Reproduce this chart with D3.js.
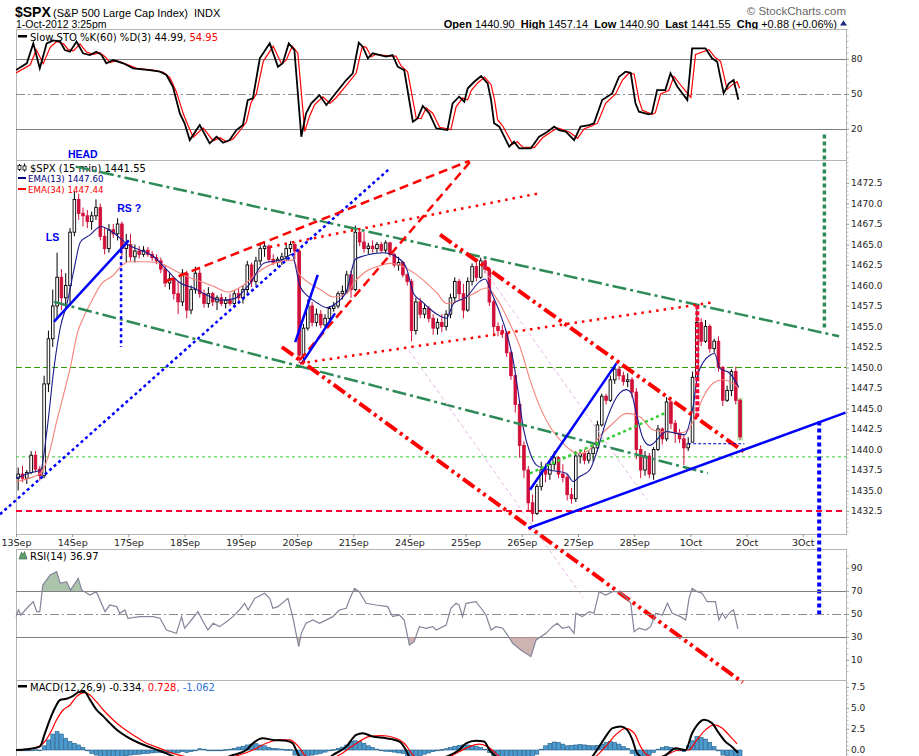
<!DOCTYPE html>
<html>
<head>
<meta charset="utf-8">
<script src="https://cdn.jsdelivr.net/npm/d3@7"></script>
<style>
  body { margin: 0; background: #fff; }
  svg { display: block; }
</style>
</head>
<body>
<div id="chart"></div>
<script>
// ---- data: 30-minute candles, 13 per session (last session 12) ----
const dayLabels = ["13Sep", "14Sep", "17Sep", "18Sep", "19Sep", "20Sep", "21Sep", "24Sep",
                   "25Sep", "26Sep", "27Sep", "28Sep", "1Oct", "2Oct", "3Oct"];
const barsPerDay = 13;

const barOpen = [
  1436.5, 1437, 1436.5, 1437.2, 1439.3, 1437.6, 1436.8, 1448, 1453.5, 1457.5, 1461, 1458.5, 1460,
  1466.5, 1470.5, 1468.8, 1468.5, 1467.8, 1468.5, 1469.5, 1466, 1464.5, 1466.8, 1466.3, 1467.5, 1464.5,
  1465, 1463.5, 1464.2, 1463.8, 1464.3, 1463.8, 1463.4, 1463, 1462, 1460.3, 1460.8, 1459, 1458,
  1461.5, 1457, 1459.5, 1461.5, 1459, 1457.8, 1459, 1458, 1458.5, 1457.8, 1458.2, 1457.8, 1459,
  1458.5, 1459.5, 1462.5, 1460.5, 1463, 1464.5, 1464.8, 1463.2, 1462.8, 1463.2, 1463.5, 1464.5, 1465,
  1464.2, 1451.5, 1454.8, 1457.5, 1455.5, 1456.5, 1455.2, 1456, 1457.2, 1457.5, 1459, 1459.3, 1461.3,
  1459.5, 1466.5, 1465.3, 1464.5, 1464.8, 1464.5, 1465, 1464.3, 1465.2, 1463.8, 1462.5, 1462.8, 1461.3,
  1460.5, 1454.5, 1458, 1456.5, 1457.2, 1456, 1454.8, 1455.5, 1455, 1456.5, 1458.5, 1460.5, 1459,
  1457, 1460.5, 1462.3, 1461, 1463, 1462, 1458, 1455, 1454.5, 1454.2, 1451.8, 1449, 1445.5,
  1440.5, 1437.5, 1433.5, 1432.2, 1435.5, 1437.5, 1437, 1438.2, 1439, 1437, 1436.6, 1434.5, 1434,
  1439.2, 1439.5, 1438.7, 1439.5, 1440.2, 1443, 1446.5, 1446, 1448.5, 1449.8, 1449, 1448.3, 1448.5,
  1447, 1440, 1437.5, 1439.2, 1437, 1440, 1442.5, 1441.3, 1445.8, 1443.2, 1442, 1441.3, 1440.2,
  1440.9, 1448.8, 1455.5, 1453.2, 1455, 1452.3, 1453.2, 1450, 1446, 1447.2, 1449.5, 1446
];
const barHigh = [
  1437.8, 1438, 1437.5, 1439.8, 1439.8, 1438, 1449, 1454.5, 1459.5, 1464, 1462, 1461.5, 1467,
  1471.5, 1471.2, 1469.5, 1469.2, 1469, 1470.5, 1470, 1467, 1467.5, 1467.5, 1468.2, 1467.8, 1466.3,
  1466.3, 1465, 1464.8, 1464.8, 1464.7, 1464.2, 1463.8, 1463.4, 1462.5, 1461.5, 1461, 1460.5, 1462,
  1461.8, 1460, 1462.3, 1462, 1459.5, 1459.8, 1459.2, 1458.8, 1459, 1458.6, 1459, 1459.4, 1459.6,
  1460, 1463, 1462.8, 1463.5, 1465, 1465.3, 1465, 1463.8, 1463.5, 1464, 1465.2, 1465.4, 1465.3,
  1464.5, 1455.3, 1458.3, 1458, 1457.2, 1457, 1456.5, 1457.5, 1458, 1459.3, 1460, 1461.8, 1461.8,
  1467.3, 1467, 1466.5, 1465.2, 1465.5, 1465.3, 1465.3, 1465.5, 1465.3, 1464, 1463.5, 1463, 1461.5,
  1460.8, 1458.5, 1458.5, 1457.8, 1457.5, 1456.5, 1456, 1456.5, 1457, 1459, 1461, 1460.8, 1460.2,
  1461, 1462.7, 1462.8, 1463.4, 1463.2, 1462.2, 1458.3, 1455.5, 1455.2, 1454.5, 1452, 1449.3, 1446,
  1441, 1438, 1434.5, 1435.8, 1438.5, 1438.3, 1438.5, 1439.8, 1439.2, 1438.2, 1437, 1435.3, 1439.8,
  1440, 1440, 1439.8, 1440.5, 1443.5, 1446.8, 1446.8, 1449, 1450.2, 1450.2, 1449.5, 1449.3, 1448.8,
  1447.5, 1440.5, 1439.8, 1439.6, 1440.3, 1443, 1442.7, 1446.4, 1446, 1443.6, 1442.5, 1441.8, 1441.5,
  1449.5, 1457.1, 1456, 1455.8, 1455.3, 1453.5, 1453.8, 1450.2, 1447.8, 1449.8, 1450.1, 1446.2
];
const barLow = [
  1435, 1436, 1435.8, 1437, 1437.2, 1436.2, 1436.5, 1447, 1452.5, 1456, 1457, 1457, 1457.5,
  1466, 1468, 1467.2, 1467, 1466.8, 1468, 1465.5, 1463.8, 1464, 1465.8, 1465.5, 1463.5, 1462.8,
  1463, 1462.8, 1463.3, 1463.5, 1463.5, 1463, 1462.6, 1461.5, 1459.8, 1459.5, 1458.3, 1456.5, 1457.5,
  1456, 1456.5, 1459, 1458.5, 1457.3, 1457.3, 1457.5, 1457, 1457.5, 1457.2, 1457.5, 1457.4, 1457.8,
  1457.8, 1459, 1459.8, 1460, 1462.5, 1463.5, 1462.8, 1462.5, 1462.3, 1462.5, 1463, 1464, 1463.2,
  1450.5, 1450.8, 1454.5, 1455, 1455, 1454.8, 1454.8, 1455.5, 1456.8, 1457.2, 1458.3, 1459, 1458.5,
  1459.3, 1464.8, 1464, 1463.8, 1464, 1464, 1464, 1464, 1463.5, 1462.2, 1461.8, 1461, 1460,
  1453.2, 1454, 1456, 1456, 1455.5, 1454, 1454, 1454.3, 1454.5, 1456, 1458, 1458.3, 1456,
  1456.8, 1460, 1460.5, 1460.8, 1461.5, 1457.5, 1453.8, 1453.8, 1453.6, 1451.3, 1448.5, 1444.5, 1439,
  1436.5, 1432.5, 1431.2, 1432, 1435, 1436, 1436.3, 1437.5, 1436.5, 1436, 1433.8, 1433.4, 1433.6,
  1438.3, 1438.2, 1438.3, 1438.5, 1439.8, 1442.8, 1445.5, 1445.8, 1448, 1448.5, 1447.8, 1447.6, 1446.3,
  1438.8, 1436.5, 1436.8, 1436.5, 1436.3, 1439.8, 1440.6, 1441, 1442.5, 1440.8, 1440.8, 1438.1, 1439.8,
  1440.9, 1448.5, 1452.6, 1453, 1451.8, 1451.8, 1449.5, 1445.3, 1445.8, 1446.5, 1445.5, 1441.2
];
const barClose = [
  1437, 1436.5, 1437.2, 1439.3, 1437.6, 1436.8, 1448, 1453.5, 1457.5, 1461, 1458.5, 1460, 1466.5,
  1470.5, 1468.8, 1468.5, 1467.8, 1468.5, 1469.5, 1466, 1464.5, 1466.8, 1466.3, 1467.5, 1464.5, 1465,
  1463.5, 1464.2, 1463.8, 1464.3, 1463.8, 1463.4, 1463, 1462, 1460.3, 1460.8, 1459, 1458, 1461.5,
  1457, 1459.5, 1461.5, 1459, 1457.8, 1459, 1458, 1458.5, 1457.8, 1458.2, 1457.8, 1459, 1458.5,
  1459.5, 1462.5, 1460.5, 1463, 1464.5, 1464.8, 1463.2, 1462.8, 1463.2, 1463.5, 1464.5, 1465, 1464.2,
  1451.5, 1454.8, 1457.5, 1455.5, 1456.5, 1455.2, 1456, 1457.2, 1457.5, 1459, 1459.3, 1461.3, 1459.5,
  1466.5, 1465.3, 1464.5, 1464.8, 1464.5, 1465, 1464.3, 1465.2, 1463.8, 1462.5, 1462.8, 1461.3, 1460.5,
  1454.5, 1458, 1456.5, 1457.2, 1456, 1454.8, 1455.5, 1455, 1456.5, 1458.5, 1460.5, 1459, 1457,
  1460.5, 1462.3, 1461, 1463, 1462, 1458, 1455, 1454.5, 1454.2, 1451.8, 1449, 1445.5, 1440.5,
  1437.5, 1433.5, 1432.2, 1435.5, 1437.5, 1437, 1438.2, 1439, 1437, 1436.6, 1434.5, 1434, 1439.2,
  1439.5, 1438.7, 1439.5, 1440.2, 1443, 1446.5, 1446, 1448.5, 1449.8, 1449, 1448.3, 1448.5, 1447,
  1440, 1437.5, 1439.2, 1437, 1440, 1442.5, 1441.3, 1445.8, 1443.2, 1442, 1441.3, 1440.2, 1440.7,
  1448.8, 1455.5, 1453.2, 1455, 1452.3, 1453.2, 1450, 1446, 1447.2, 1449.5, 1446, 1441.55
];

// moving averages: [bar, value]
const ema13 = [[-0.5,1436.5],[3,1437.2],[5.2,1437.5],[6.7,1442.5],[8.3,1450],[9.8,1455],[11.3,1457.8],
  [12.9,1461.9],[14.4,1465.3],[16.7,1466.2],[19.1,1467.2],[22.1,1466.4],[25.6,1464.9],[28.3,1464.3],
  [31.4,1463.5],[34.4,1461.9],[37.5,1460.3],[40.6,1459.7],[43.7,1458.8],[46.8,1458.2],[50,1458.4],
  [53.7,1460.3],[56.8,1462.7],[61.4,1463.2],[63.3,1463.8],[65.2,1459.9],[66.8,1458.8],[69.1,1457.9],
  [71.4,1457.3],[73.7,1457.9],[76,1459.4],[78,1463.2],[79.9,1463.6],[84.5,1464],[88.3,1463.2],
  [89.9,1462],[91.4,1459.1],[93.5,1458],[95.3,1457.1],[97.5,1456.3],[99.1,1456],[100.7,1457.8],
  [103.7,1458.6],[106.8,1460.5],[108,1460.8],[109.5,1459.1],[111.4,1456.7],[113,1454.2],[114.5,1450.9],
  [115.7,1446.9],[116.8,1442.8],[118.4,1439.6],[119.9,1438.1],[123,1437.5],[126.8,1437.1],[128.4,1436.1],
  [129.9,1436.7],[132.2,1437.5],[133.8,1439.6],[136.1,1443.6],[139.2,1446.9],[140.7,1447.3],[141.8,1446.9],
  [143,1444.4],[144.5,1441.4],[146.1,1440.5],[150,1442.2],[154.2,1441.8],[156.1,1445.2],[157.3,1449.3],
  [160,1451.5],[161.1,1451.7],[162.3,1449.9],[164.6,1449.3],[166.7,1447.6]];
const ema34 = [[-0.5,1436.1],[5.2,1437.1],[6.7,1438.7],[9,1443.6],[10.6,1446.9],[12.1,1450.1],[13.7,1454.2],
  [15.2,1456.2],[17.5,1458.6],[19.1,1460.1],[22.1,1461.3],[23.7,1462.3],[25.6,1462.9],[29.8,1462.9],
  [32.9,1462.7],[36,1461.9],[39.1,1461.1],[42.2,1460.5],[45.2,1459.9],[48.7,1459.2],[52,1460],
  [55.2,1461.5],[59.1,1462.7],[63.7,1463.1],[64.9,1461.5],[66.8,1460.5],[69.9,1459.5],[73,1458.6],
  [76,1459],[77.6,1460.3],[79.9,1461.5],[83,1462.3],[86,1462.7],[89.1,1462.3],[92.2,1461.3],
  [95.3,1459.9],[97,1459],[99.1,1457.8],[102.2,1458.2],[105.3,1459],[108.3,1459.7],[111.4,1457.8],
  [113.7,1455.4],[116.1,1452.5],[118.4,1448.5],[120.7,1445.2],[123,1442.8],[125.3,1441.2],[127.6,1440],
  [129.9,1439.5],[132.2,1440],[134.5,1441.6],[137.6,1443.2],[140.7,1444.4],[143.8,1444],[146.8,1442.4],
  [150,1442.1],[153,1442],[155,1442.4],[156.9,1444.4],[158.5,1446.4],[160.8,1448.1],[163.1,1448.5],
  [166.7,1447.5]];

// slow stochastic
const stoK = [[-0.5,70.5],[2,76.3],[3.5,93.4],[5,72],[6.6,93.4],[8.1,96],[9.7,95],[10.8,87.7],[12,86.2],
  [13.5,95],[15,84.9],[16.6,83.4],[18.1,86.2],[19.3,83.4],[20.4,76.3],[22,79.1],[24.3,76.3],[26.6,72],
  [30.4,70.5],[32.8,69.1],[34.3,66.3],[35.8,56.2],[37.4,33.4],[38.5,24.9],[39.7,10.5],[42,23.4],
  [44.3,7.7],[45.9,13.4],[47.4,8.2],[48.9,10.5],[50.5,19.1],[52,23.4],[53.1,44.8],[54.3,46.3],
  [55.9,80.6],[58.2,93.4],[60.1,73.4],[61.2,76.3],[62.6,93.4],[63.9,87.7],[65.5,13.4],[66.6,33.4],
  [67.8,42],[69.7,49.1],[71.3,40.5],[72.8,47.7],[75.9,62],[77.4,67.7],[78.8,94],[79.7,90.5],
  [80.9,80.6],[82,84.9],[85.1,82],[86.6,83.4],[87.8,73.4],[89.3,70.5],[91.3,26.2],[92.4,29.1],
  [93.6,39.7],[95.1,33.4],[96.7,20.6],[99.3,19.1],[100.5,42],[102,47.7],[103.2,43.4],[104,54.9],
  [105.5,60.5],[107.1,65.4],[108.6,59.1],[109.4,44.8],[110.1,24.9],[111.3,22],[113.6,4.8],[114.7,9.1],
  [115.9,3.4],[118.6,3.4],[120.5,13.4],[122.1,16.8],[124,22],[125.1,19.1],[126.7,17.7],[128.6,10.5],
  [130.1,22],[132.1,23.4],[133.2,24.9],[135.1,44.8],[137.4,50.5],[139,64.8],[140.5,69.1],[141.7,68.2],
  [142.8,42],[143.6,34.8],[145.9,32.6],[146.6,33.4],[147.8,53.4],[149.7,53.4],[150.9,67.7],[152.5,56.2],
  [154.8,44.8],[155.9,89.1],[159,89.1],[160.5,80.6],[161.7,77.7],[163.2,50.5],[164.4,59.1],[165.5,62],
  [166.6,45]];
const stoD = [[-0.5,68],[2.8,75],[4.2,88],[5.8,76],[7.4,90],[8.9,95],[10.5,93],[11.6,88],[12.8,87],
  [14.3,93],[15.8,86],[17.4,84],[18.9,85.5],[20.1,82],[21.2,77],[22.8,78.5],[25.1,75.5],[27.4,72],
  [31.2,70.5],[33.6,68.5],[35.1,64],[36.6,52],[38.2,33],[39.3,23],[40.5,13],[42.8,21],[45.1,10],
  [46.7,12.5],[48.2,9],[49.7,11.5],[51.3,18.5],[52.8,26],[53.9,43],[55.1,50],[56.7,78],[59,91],
  [60.9,76],[62,79],[63.4,91],[64.7,85],[66.3,18],[67.4,31],[68.6,41],[70.5,47.5],[72.1,42],[73.6,47],
  [76.7,61],[78.2,68],[79.6,91],[80.5,90],[81.7,82],[82.8,84],[85.9,82.5],[87.4,82.5],[88.6,74],
  [90.1,69],[92.1,29],[93.2,29],[94.4,38],[95.9,33.5],[97.5,21.5],[100.1,19.5],[101.3,39],[102.8,46.5],
  [104,45],[104.8,53],[106.3,59.5],[107.9,64.5],[109.4,58],[110.2,45],[110.9,28],[112.1,22.5],
  [114.4,7],[115.5,9],[116.7,4.5],[119.4,4],[121.3,12.5],[122.9,16.5],[124.8,21],[125.9,19.5],
  [127.5,17.5],[129.4,12],[130.9,20],[132.9,23],[134,25],[135.9,42],[138.2,50],[139.8,62],[141.3,68],
  [142.5,67],[143.6,45],[144.4,36],[146.7,32.5],[147.4,34],[148.6,50],[150.5,53],[151.7,65],
  [153.3,57.5],[155.6,47],[156.7,84],[159.8,88],[161.3,81],[162.5,78],[164,54],[165.2,58],[166.3,60.5],
  [166.9,55]];

// RSI(14)
const rsi = [[-0.5,47.7],[0.1,53.5],[0.6,49],[2,55],[3.5,60.7],[4.3,52],[5,52],[5.7,75.2],[7.4,83.9],
  [8.9,86.8],[9.7,76.7],[11.2,78.1],[12.1,70.9],[13.9,81],[14.7,70.9],[16.6,66.5],[18.1,69.4],[20.1,52],
  [21.2,57.8],[22.8,56.4],[23.5,50.6],[24.7,53.5],[25.4,46.3],[28.1,47.7],[31.2,47.7],[32.8,46.3],
  [34.3,36.1],[36.6,33.2],[37.8,47.7],[38.5,37.6],[40.4,46.3],[41.6,52],[42.8,43.3],[43.9,36.1],
  [45.1,41.9],[46.6,39],[48.2,43.3],[49.7,47.7],[51.2,53.5],[52.4,59.3],[53.2,53.5],[54.7,63.6],
  [57,68],[58.2,63.6],[58.9,55],[60.1,56.4],[62.4,63.6],[63.5,47.7],[64.9,21.6],[65.5,33.2],[66.6,41.9],
  [68.2,44.8],[69.7,41.9],[72.8,47.7],[74.3,53.5],[75.9,55],[76.6,62.2],[77.8,72.3],[78.9,69.4],
  [80.5,59.3],[82.8,57.8],[85.5,56.4],[86.6,47.7],[88.2,49.1],[89.3,44.8],[90.5,23],[91.6,25.9],
  [92.8,39],[94.4,37.6],[95.9,39],[96.7,36.1],[99,40.4],[100.1,55],[101.3,59.3],[102,57.8],[102.8,47.7],
  [103.6,59.3],[105.9,60.7],[107.1,55],[108.2,49.1],[109.4,36.1],[110.5,39],[112.1,37.6],[113.2,31.7],
  [114.4,24.5],[116.3,18.7],[118.6,12.9],[119.8,27.4],[122.1,33.2],[123.6,39],[124.7,41.9],[125.9,37.6],
  [127.4,39],[128.6,33.2],[129,50.6],[130.5,47.7],[132.1,52],[133.2,50.6],[134.4,69.4],[135.9,66.5],
  [137.5,69.4],[139,69.4],[140.5,65.1],[141.7,59.3],[142.5,34.6],[143.6,37.6],[145.2,36.1],[146.3,39],
  [147.5,50.6],[149,49.1],[150.2,59.3],[151.3,50.6],[153.2,47.7],[154.4,44.8],[155.2,63.6],[155.9,72.3],
  [157.1,69.4],[158.2,68],[159.4,60.7],[161.3,60.7],[162.1,44.8],[162.9,50.6],[163.6,46.3],[164.8,52],
  [165.5,53.5],[166.5,37]];

// MACD(12,26,9)
const macdLine = [[-0.5,0],[2,0.1],[5,0.4],[6.2,2],[7.4,3.7],[8.5,5],[9.7,5.95],[11.2,6.1],[12.4,6.35],
  [14.3,6.94],[15.4,6.9],[16.6,6],[18.1,4.8],[19.7,4],[21.2,3.2],[22.8,2.4],[25.1,1.6],[28.1,0.8],
  [31.2,0.2],[34.3,-0.4],[36.6,-0.9],[40,-1.2],[45,-1.3],[49.7,-0.6],[52.8,0],[54.3,0.8],[56.6,1.4],
  [58.9,1.2],[62,1.1],[63.5,0.8],[64.3,0],[65.1,-0.8],[67,-1.5],[70,-1.6],[72.8,-0.6],[75.9,0.4],
  [78.2,1.8],[79.7,2],[82,1.6],[85.1,1.4],[88.2,1],[89.7,0],[90.5,-0.8],[93,-1.5],[96,-1.3],[99,-0.8],
  [102,0],[103.6,0.8],[105.9,1.1],[107.8,1],[109,0],[110.5,-0.8],[113,-2.5],[116,-5],[119,-6.5],
  [122,-5.5],[126,-3.5],[130,-1.8],[132.8,-0.8],[134.4,0.4],[135.9,1.6],[137.5,2.6],[139.4,2.8],
  [140.9,2.4],[142.1,1.2],[143.2,-0.4],[146,-1.2],[148,-1],[149.8,-0.6],[152.1,0.2],[154.4,0],
  [155.9,2],[157.1,3],[158.7,3.6],[160.5,3.2],[162.1,2],[163.6,1],[165.1,0.4],[166.5,-0.33]];
const macdSignal = [[-0.5,0],[3.5,0.2],[5.8,0.8],[7.4,2],[8.9,3.6],[10.4,4.76],[12,5.36],[13.5,6.35],
  [15.4,6.83],[16.6,6.55],[18.1,5.75],[19.7,4.76],[22,3.57],[24.3,2.58],[26.6,1.8],[29.7,0.8],
  [32.8,0.2],[35.8,-0.4],[40,-0.9],[46,-1.1],[51.2,-0.6],[54.3,0],[57.4,0.8],[60.5,1.2],[62.8,1.2],
  [63.9,0.9],[65.5,0],[66.2,-0.6],[70,-1.2],[74.3,-0.6],[76.6,0.2],[78.9,1],[81.2,1.6],[84.2,1.7],
  [87.4,1.4],[89.3,0.8],[90.5,0],[91.3,-0.6],[95,-1.3],[99,-1],[102,-0.2],[104.4,0.4],[106.7,0.7],
  [108.6,0.4],[110.5,-0.4],[115,-2.5],[120,-4.5],[126,-3.5],[130,-1.8],[133.6,-0.8],[135.9,0.4],
  [138.2,1.8],[140.5,2.58],[142.5,2],[144,0.4],[145.5,-0.6],[148,-0.9],[149.8,-0.6],[153,0],[155.2,0],
  [156.7,1],[159,2.4],[160.9,3],[162.9,2.6],[164.4,1.8],[166.3,0.73]];
const macdHist = [
  0, 0, 0, 0, 0.05, -0.05, 0.5, 1.2, 1.9, 2.2, 1.9, 1.4, 1.0,
  0.8, 0.6, 0.3, -0.1, -0.4, -0.6, -0.8, -0.9, -0.9, -0.8, -0.8, -0.75, -0.7,
  -0.6, -0.55, -0.5, -0.45, -0.4, -0.35, -0.3, -0.3, -0.3, -0.35, -0.4, -0.35, -0.2,
  -0.3, -0.2, 0, 0.15, 0.1, -0.05, -0.1, -0.05, 0, 0.05, 0.1, 0.2, 0.35,
  0.45, 0.6, 0.7, 0.75, 0.6, 0.5, 0.3, 0.2, 0.15, 0.1, 0.05, 0.05, -0.6,
  -1.1, -1.0, -0.8, -0.6, -0.5, -0.4, -0.25, -0.1, 0.05, 0.2, 0.35, 0.6, 1.0,
  1.1, 1.0, 0.8, 0.5, 0.3, 0.1, -0.05, -0.15, -0.2, -0.25, -0.35, -0.4, -0.8,
  -1.1, -0.9, -0.7, -0.5, -0.35, -0.2, -0.05, 0.05, 0.15, 0.3, 0.45, 0.55, 0.6,
  0.6, 0.55, 0.45, 0.3, 0.1, -0.3, -0.7, -0.9, -1.0, -1.2, -1.5, -1.9, -2.3,
  -2.4, -2.0, -1.2, -0.5, 0.1, 0.5, 0.8, 0.95, 0.9, 0.7, 0.5, 0.55, 0.6,
  0.65, 0.6, 0.55, 0.5, 0.55, 0.7, 0.9, 1.0, 0.9, 0.7, 0.4, 0.2, -0.4,
  -0.8, -0.9, -0.8, -0.6, -0.3, 0.1, 0.3, 0.4, 0.3, 0.1, -0.1, -0.2, 0.5,
  1.1, 1.6, 1.5, 1.3, 0.9, 0.4, -0.1, -0.6, -0.7, -0.9, -1.0, -1.06
];

// hand drawn annotations, endpoints as [bar, price]
const trendLines = [
  { kind: "greenDashDot", from: [13.3, 1474.5], to: [189.9, 1453.8] },
  { kind: "greenDashDot", from: [8.3, 1458.0], to: [159.5, 1437.1] },
  { kind: "blueDotted", from: [-4.2, 1432.1], to: [85.6, 1474.1] },
  { kind: "blueDotted", from: [23.8, 1464.3], to: [23.8, 1452.5] },
  { kind: "blueSolid", from: [8.3, 1455.6], to: [25.6, 1465.5] },
  { kind: "redDashed", from: [34.1, 1460.5], to: [104.4, 1475.2] },
  { kind: "redDashed", from: [65.1, 1450.9], to: [104.6, 1475.1] },
  { kind: "redDotted", from: [58.2, 1464.7], to: [121, 1471.3] },
  { kind: "redDotted", from: [65.2, 1450.5], to: [160.2, 1457.9] },
  { kind: "pinkThin", from: [90.4, 1452.1], to: [130.7, 1421.9] },
  { kind: "pinkThin", from: [107.8, 1461.9], to: [145.5, 1433.8] },
  { kind: "blueSolid", from: [64.1, 1453.1], to: [69.3, 1461.3] },
  { kind: "blueSolid", from: [65.6, 1450.5], to: [73.3, 1456.6] },
  { kind: "redDashDotDot", from: [61.0, 1452.5], to: [167.6, 1411.6] },
  { kind: "redDashDotDot", from: [97.6, 1466.2], to: [168.5, 1439.5] },
  { kind: "blueSolid", from: [118, 1430.4], to: [191.4, 1444.5] },
  { kind: "blueSolid", from: [118.4, 1435.1], to: [138.4, 1450.5] },
  { kind: "greenDotted", from: [118.4, 1437.1], to: [149.9, 1444.5] },
  { kind: "navyDashed", from: [155, 1440.7], to: [168, 1440.7] },
  { kind: "redDottedBold", from: [157.1, 1457.6], to: [157.1, 1444.0] },
  { kind: "blueDottedBold", from: [185.3, 1443.4], to: [185.3, 1419.8] },
  { kind: "greenDottedBold", from: [186.5, 1478.4], to: [186.5, 1454.8] }
];
const levelLines = [
  { kind: "greenDashedH", price: 1450 },
  { kind: "greenDottedH", price: 1439.1 },
  { kind: "redDashedH", price: 1432.5 }
];
const noteLabels = [
  { text: "HEAD", at: [11.5, 1475.6] },
  { text: "LS", at: [6.4, 1465.4] },
  { text: "RS ?", at: [22.9, 1469.0] }
];

const priceTicks = d3.range(1432.5, 1473, 2.5);
const stoTicks = [20, 50, 80];
const rsiTicks = [10, 30, 50, 70, 90];
const macdTicks = [0, 2.5, 5, 7.5];

// ---- styles ----
const lineStyles = {
  greenDashDot:   { stroke: "#2e8b57", width: 2.5, dash: "14,4,3,4" },
  blueSolid:      { stroke: "#0000ff", width: 2.5, dash: null },
  blueDotted:     { stroke: "#0000ff", width: 2.5, dash: "3,3" },
  blueDottedBold: { stroke: "#0000ff", width: 4, dash: "4,3" },
  redDashed:      { stroke: "#ff0000", width: 2.5, dash: "9,5" },
  redDotted:      { stroke: "#ff0000", width: 2.5, dash: "2.5,5" },
  redDottedBold:  { stroke: "#ff0033", width: 4, dash: "4,2" },
  redDashDotDot:  { stroke: "#ff0000", width: 4, dash: "14,4,3,4,3,4" },
  greenDotted:    { stroke: "#33cc33", width: 2.5, dash: "3,3" },
  greenDottedBold:{ stroke: "#2e8b57", width: 3.5, dash: "4,3" },
  pinkThin:       { stroke: "#e6b8e6", width: 1, dash: "4,3" },
  navyDashed:     { stroke: "#0000cc", width: 1, dash: "3,2" },
  greenDashedH:   { stroke: "#339900", width: 1.2, dash: "6,3" },
  greenDottedH:   { stroke: "#33cc33", width: 1, dash: "3,3" },
  redDashedH:     { stroke: "#ff0033", width: 2, dash: "6,4" }
};

const W = 919, H = 756;
const plotLeft = 16, plotRight = 846;
const stoPanel = { top: 29, bottom: 160 };
const pricePanel = { top: 160, bottom: 534 };
const rsiPanel = { top: 549, bottom: 680 };
const macdPanel = { top: 680, bottom: 760 };
const labelFont = "'DejaVu Sans', Verdana, sans-serif";
const headFont = "'Liberation Sans', Arial, sans-serif";

// scales
const xScale = d3.scaleLinear().domain([-0.5, 191.5]).range([plotLeft, plotRight]);
const yPrice = d3.scaleLinear().domain([1432.5, 1472.5]).range([511, 183]);
const ySto = d3.scaleLinear().domain([20, 80]).range([129, 59]);
const yRsi = d3.scaleLinear().domain([30, 70]).range([637, 591]);
const yMacd = d3.scaleLinear().domain([0, 7.5]).range([750, 687]);

const svg = d3.select("#chart").append("svg")
    .attr("width", W)
    .attr("height", H)
    .style("font-family", labelFont);
svg.append("rect").attr("width", W).attr("height", H).attr("fill", "#fff");

const defs = svg.append("defs");
function addClip(id, x, y, w, h) {
    defs.append("clipPath").attr("id", id)
        .append("rect").attr("x", x).attr("y", y).attr("width", w).attr("height", h);
}
addClip("clipSto", plotLeft, stoPanel.top, plotRight - plotLeft, stoPanel.bottom - stoPanel.top);
addClip("clipPrice", plotLeft, pricePanel.top, plotRight - plotLeft, pricePanel.bottom - pricePanel.top);
addClip("clipRsiHi", plotLeft, rsiPanel.top, plotRight - plotLeft, yRsi(70) - rsiPanel.top);
addClip("clipRsiLo", plotLeft, yRsi(30), plotRight - plotLeft, rsiPanel.bottom - yRsi(30));
addClip("clipMacd", plotLeft, macdPanel.top, plotRight - plotLeft, macdPanel.bottom - macdPanel.top);

// ---- header ----
svg.append("text").attr("x", 15).attr("y", 16.5)
    .attr("font-family", headFont).attr("font-size", 14).attr("font-weight", "bold")
    .text("$SPX");
svg.append("text").attr("x", 53).attr("y", 16.5)
    .attr("font-family", headFont).attr("font-size", 11)
    .text("(S&P 500 Large Cap Index)  INDX")
    .style("white-space", "pre");

svg.append("text").attr("x", 16).attr("y", 28)
    .attr("font-family", headFont).attr("font-size", 10.5)
    .text("1-Oct-2012 3:25pm");

svg.append("text").attr("x", 846).attr("y", 14.5)
    .attr("text-anchor", "end").attr("font-family", headFont)
    .attr("font-size", 11.5).attr("fill", "#666")
    .text("\u00a9 StockCharts.com");

const quote = svg.append("text").attr("x", 837).attr("y", 27.5)
    .attr("text-anchor", "end").attr("font-family", headFont).attr("font-size", 11)
    .style("white-space", "pre");
[["Open", " 1440.90  "], ["High", " 1457.14  "], ["Low", " 1440.90  "],
 ["Last", " 1441.55  "], ["Chg", " +0.88 (+0.06%)"]].forEach(([k, v]) => {
    quote.append("tspan").attr("font-weight", "bold").text(k);
    quote.append("tspan").text(v);
});
svg.append("path").attr("d", "M840,25.5 L843.5,20.5 L847,25.5 Z").attr("fill", "#1a237e");

// ---- panel frames ----
[stoPanel, pricePanel, rsiPanel, macdPanel].forEach(p => {
    svg.append("rect")
        .attr("x", plotLeft + 0.5).attr("y", p.top + 0.5)
        .attr("width", plotRight - plotLeft).attr("height", p.bottom - p.top)
        .attr("fill", "none").attr("stroke", "#b4b4b4");
});

function guide(yv, dashed) {
    svg.append("line")
        .attr("x1", plotLeft).attr("x2", plotRight)
        .attr("y1", Math.round(yv) + 0.5).attr("y2", Math.round(yv) + 0.5)
        .attr("stroke", dashed ? "#8c8c8c" : "#7f7f7f")
        .attr("stroke-dasharray", dashed ? "9,3,2,3" : null);
}

// right side axes
function rightAxis(scale, values, fmt, minorValues) {
    const g = svg.append("g").attr("transform", `translate(${plotRight},0)`);
    g.call(d3.axisRight(scale).tickValues(values).tickFormat(fmt).tickSize(3).tickPadding(2));
    g.select(".domain").remove();
    g.attr("font-family", labelFont).attr("font-size", 9);
    g.selectAll(".tick text").attr("fill", "#222");
    g.selectAll(".tick line").attr("stroke", "#999");
    g.selectAll("line.minor").data(minorValues).enter().append("line")
        .attr("class", "minor")
        .attr("x1", 0.5).attr("x2", 2.5)
        .attr("y1", d => scale(d)).attr("y2", d => scale(d))
        .attr("stroke", "#c0c0c0");
}

// ---- stochastic panel ----
guide(ySto(80)); guide(ySto(20)); guide(ySto(50), true);
rightAxis(ySto, stoTicks, d3.format("d"), d3.range(-10, 111, 5).filter(v => ySto(v) > stoPanel.top && ySto(v) < stoPanel.bottom));

const stoG = svg.append("g").attr("clip-path", "url(#clipSto)");
const stoLine = d3.line().x(d => xScale(d[0])).y(d => ySto(d[1]));
stoG.append("path").datum(stoD).attr("d", stoLine)
    .attr("fill", "none").attr("stroke", "#ff0000").attr("stroke-width", 1.2);
stoG.append("path").datum(stoK).attr("d", stoLine)
    .attr("fill", "none").attr("stroke", "#000").attr("stroke-width", 1.8);

svg.append("rect").attr("x", 18).attr("y", 35).attr("width", 9).attr("height", 2.5).attr("fill", "#000");
const stoLegend = svg.append("text").attr("x", 30).attr("y", 40.5).attr("font-size", 10);
stoLegend.append("tspan").text("Slow STO %K(60) %D(3) 44.99, ");
stoLegend.append("tspan").attr("fill", "#ff0000").text("54.95");

// ---- price panel ----
rightAxis(yPrice, priceTicks, d3.format(".1f"), d3.range(1429, 1477, 0.5).filter(v => yPrice(v) > pricePanel.top && yPrice(v) < pricePanel.bottom));

const priceG = svg.append("g").attr("clip-path", "url(#clipPrice)");
levelLines.forEach(l => {
    const s = lineStyles[l.kind];
    priceG.append("line")
        .attr("x1", plotLeft).attr("x2", plotRight)
        .attr("y1", yPrice(l.price)).attr("y2", yPrice(l.price))
        .attr("stroke", s.stroke).attr("stroke-width", s.width)
        .attr("stroke-dasharray", s.dash);
});

// candles
const bars = barClose.map((c, i) => ({ i, o: barOpen[i], h: barHigh[i], l: barLow[i], c }));
const last = bars[bars.length - 1];
priceG.append("rect")
    .attr("x", xScale(last.i) - 3).attr("y", yPrice(last.h) - 1)
    .attr("width", 6).attr("height", yPrice(last.l) - yPrice(last.h) + 2)
    .attr("fill", "#bfeebf");

const candleG = priceG.append("g");
bars.forEach(d => {
    const up = d.c >= d.o;
    const col = up ? "#000" : "#d0103a";
    const x = xScale(d.i);
    candleG.append("line")
        .attr("x1", x).attr("x2", x)
        .attr("y1", yPrice(d.h)).attr("y2", yPrice(d.l))
        .attr("stroke", col).attr("stroke-width", 1);
    const top = yPrice(Math.max(d.o, d.c));
    const hgt = Math.max(1, Math.abs(yPrice(d.o) - yPrice(d.c)));
    candleG.append("rect")
        .attr("x", x - 1.3).attr("y", top)
        .attr("width", 2.6).attr("height", hgt)
        .attr("fill", up ? "#fff" : col)
        .attr("stroke", col).attr("stroke-width", 0.9);
});

// moving averages
const emaLine = d3.line().curve(d3.curveMonotoneX).x(d => xScale(d[0])).y(d => yPrice(d[1]));
priceG.append("path").datum(ema34).attr("d", emaLine)
    .attr("fill", "none").attr("stroke", "#f4827a").attr("stroke-width", 1.1);
priceG.append("path").datum(ema13).attr("d", emaLine)
    .attr("fill", "none").attr("stroke", "#1a1a8c").attr("stroke-width", 1.1);

// legend
const legIcon = svg.append("g");
[[19.5, 164, 171, 165.5, 169.5], [24.5, 163.5, 171.5, 166, 170]].forEach(([x, y1, y2, b1, b2]) => {
    legIcon.append("line").attr("x1", x).attr("x2", x).attr("y1", y1).attr("y2", y2).attr("stroke", "#000");
    legIcon.append("rect").attr("x", x - 1.5).attr("y", b1).attr("width", 3).attr("height", b2 - b1)
        .attr("fill", "#fff").attr("stroke", "#000").attr("stroke-width", 0.8);
});
svg.append("text").attr("x", 30).attr("y", 171.5).attr("font-size", 10).text("$SPX (15 min) 1441.55");
svg.append("rect").attr("x", 18).attr("y", 177).attr("width", 8).attr("height", 2).attr("fill", "#000080");
svg.append("text").attr("x", 28).attr("y", 181.5).attr("font-size", 8.7).attr("fill", "#000080").text("EMA(13) 1447.60");
svg.append("rect").attr("x", 18).attr("y", 188).attr("width", 8).attr("height", 2).attr("fill", "#ff0000");
svg.append("text").attr("x", 28).attr("y", 192.5).attr("font-size", 8.7).attr("fill", "#ff0000").text("EMA(34) 1447.44");

// annotations (not clipped: some run across panels)
const annG = svg.append("g").attr("stroke-linecap", "butt");
trendLines.forEach(t => {
    const s = lineStyles[t.kind];
    annG.append("line")
        .attr("x1", xScale(t.from[0])).attr("y1", yPrice(t.from[1]))
        .attr("x2", xScale(t.to[0])).attr("y2", yPrice(t.to[1]))
        .attr("stroke", s.stroke).attr("stroke-width", s.width)
        .attr("stroke-dasharray", s.dash);
});
noteLabels.forEach(n => {
    svg.append("text")
        .attr("x", xScale(n.at[0])).attr("y", yPrice(n.at[1]))
        .attr("font-family", headFont).attr("font-weight", "bold")
        .attr("font-size", 10.5).attr("fill", "#0000ee")
        .style("white-space", "pre")
        .text(n.text);
});

// date axis
const dateAxis = svg.append("g").attr("transform", `translate(0,${pricePanel.bottom})`);
dateAxis.call(d3.axisBottom(xScale)
    .tickValues(dayLabels.map((_, d) => d * barsPerDay - 0.5))
    .tickFormat((v, i) => dayLabels[i])
    .tickSize(3).tickPadding(2));
dateAxis.select(".domain").remove();
dateAxis.attr("font-family", labelFont).attr("font-size", 9.5);
dateAxis.selectAll(".tick text").attr("fill", "#222");
dateAxis.selectAll(".tick line").attr("stroke", "#999");

// ---- RSI panel ----
guide(yRsi(70)); guide(yRsi(30)); guide(yRsi(50), true);
rightAxis(yRsi, rsiTicks, d3.format("d"), d3.range(0, 101, 5).filter(v => yRsi(v) > rsiPanel.top && yRsi(v) < rsiPanel.bottom));

svg.append("path").datum(rsi)
    .attr("clip-path", "url(#clipRsiHi)")
    .attr("d", d3.area().x(d => xScale(d[0])).y0(yRsi(70)).y1(d => yRsi(d[1])))
    .attr("fill", "#8fb08f").attr("fill-opacity", 0.75);
svg.append("path").datum(rsi)
    .attr("clip-path", "url(#clipRsiLo)")
    .attr("d", d3.area().x(d => xScale(d[0])).y0(yRsi(30)).y1(d => yRsi(d[1])))
    .attr("fill", "#b99393").attr("fill-opacity", 0.7);
svg.append("path").datum(rsi)
    .attr("d", d3.line().x(d => xScale(d[0])).y(d => yRsi(d[1])))
    .attr("fill", "none").attr("stroke", "#84849a").attr("stroke-width", 1.2);

svg.append("path").attr("d", "M19,559 L21.5,552 L23,555 L24.5,551.5 L27,559 Z")
    .attr("fill", "#5e9e6e").attr("stroke", "#2f5f3a").attr("stroke-width", 0.6);
svg.append("text").attr("x", 30).attr("y", 559.5).attr("font-size", 10).text("RSI(14) 36.97");

// ---- MACD panel ----
rightAxis(yMacd, macdTicks, d3.format(".1f"), d3.range(-1, 9, 0.5).filter(v => yMacd(v) > macdPanel.top && yMacd(v) < H));

const macdG = svg.append("g").attr("clip-path", "url(#clipMacd)");
macdHist.forEach((v, i) => {
    const y0 = yMacd(0), y1 = yMacd(v);
    macdG.append("rect")
        .attr("x", xScale(i) - 1.9).attr("y", Math.min(y0, y1))
        .attr("width", 3.8).attr("height", Math.max(0.8, Math.abs(y1 - y0)))
        .attr("fill", "#4b9bd1").attr("stroke", "#1f5a85").attr("stroke-width", 0.6);
});
const macdPath = d3.line().curve(d3.curveMonotoneX).x(d => xScale(d[0])).y(d => yMacd(d[1]));
macdG.append("path").datum(macdSignal).attr("d", macdPath)
    .attr("fill", "none").attr("stroke", "#ff0000").attr("stroke-width", 1.2);
macdG.append("path").datum(macdLine).attr("d", macdPath)
    .attr("fill", "none").attr("stroke", "#000").attr("stroke-width", 2);

svg.append("rect").attr("x", 18).attr("y", 685).attr("width", 9).attr("height", 2.5).attr("fill", "#000");
const macdLegend = svg.append("text").attr("x", 30).attr("y", 690.5).attr("font-size", 10);
macdLegend.append("tspan").text("MACD(12,26,9) -0.334");
macdLegend.append("tspan").attr("fill", "#ff0000").text(", 0.728");
macdLegend.append("tspan").attr("fill", "#2f6fd6").text(", -1.062");
</script>
</body>
</html>
